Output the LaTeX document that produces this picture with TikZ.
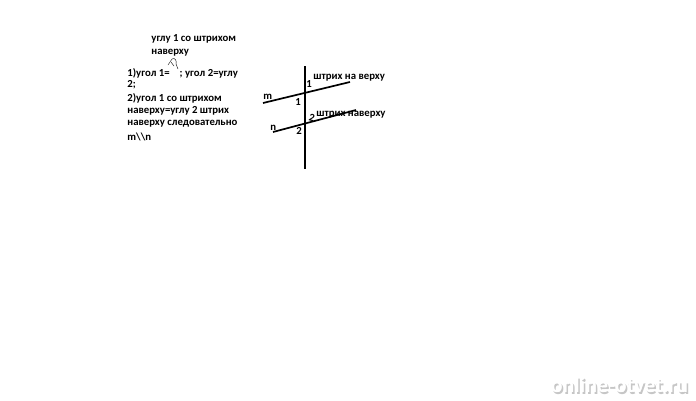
\documentclass[tikz,border=0pt]{standalone}
\usepackage{fontspec}
\setmainfont{Carlito}
\usepackage{tikz}

\begin{document}
\begin{tikzpicture}[x=1bp,y=-1bp,thick,
		every node/.style={font=\bfseries\fontsize{10.8}{12}\selectfont, inner sep=0pt, anchor=west},
		mark line/.style={line width=1.7pt}]
			\useasboundingbox (0,0) rectangle (696,400);
			% text on the left
			\node (ins1) at (151,39) {углу 1 со штрихом};
			\node (ins2) at (151,53) {наверху};
			\node (row1) at (127,73) {1)угол 1=\hspace{10bp}; угол 2=углу};
			\node (row2) at (127,85) {2;};
			\node (row3) at (127,98) {2)угол 1 со штрихом};
			\node (row4) at (127,111) {наверху=углу 2 штрих};
			\node (row5) at (127,124) {наверху следовательно};
			\node (row6) at (127,137) {m\textbackslash\textbackslash n};
			% insertion mark
			\draw[thin] (168,65) -- (172,59) .. controls (175,57) and (177,61) .. (176,64) -- (178,69);
			\draw[thin] (171,62) -- (174,66);
			% lines
			\coordinate (top) at (305,66);
			\coordinate (bottom) at (305,169);
			\coordinate (m1) at (263,103);
			\coordinate (m2) at (350,82);
			\coordinate (n1) at (273,132);
			\coordinate (n2) at (356,110);
			\draw[mark line] (top) -- (bottom);
			\draw[mark line] (m1) -- (m2);
			\draw[mark line] (n1) -- (n2);
			% labels
			\node (m) at (263,97) {m};
			\node (n) at (270,128) {n};
			\node (a1) at (306,84) {1};
			\node (b1) at (295,102) {1};
			\node (a2) at (308,118) {\rotatebox{-15}{2}};
			\node (b2) at (296,131) {2};
			\node (s1) at (313,78) {штрих на верху};
			\node (s2) at (316,115) {штрих наверху};
			% watermark
			\node[text=gray!45, font=\bfseries\fontsize{22}{24}\selectfont] (wm0) at (552,386.5) {online-otvet.ru};
			\node[text=white, font=\bfseries\fontsize{22}{24}\selectfont] (wm) at (550.5,385) {online-otvet.ru};
		\end{tikzpicture}
\end{document}
